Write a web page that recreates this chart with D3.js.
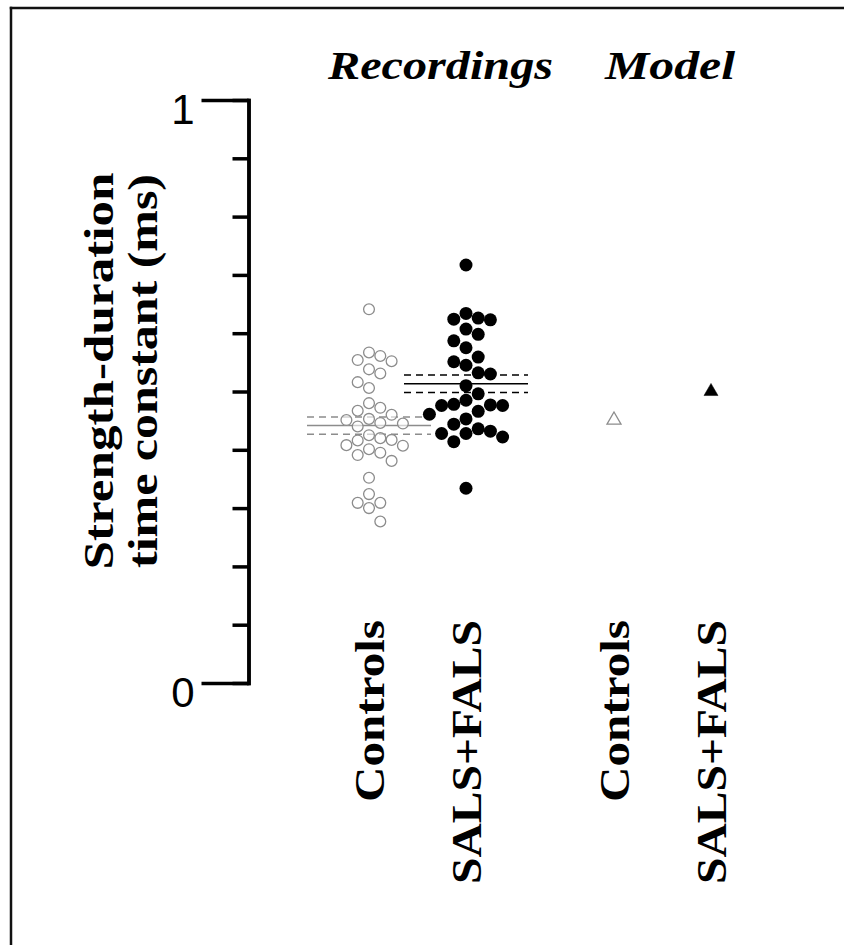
<!DOCTYPE html>
<html>
<head>
<meta charset="utf-8">
<script src="https://cdn.jsdelivr.net/npm/d3@7"></script>
<style>
  html, body { margin: 0; padding: 0; background: #fff; overflow: hidden; }
  svg { display: block; }
</style>
</head>
<body>
<svg id="chart" width="844" height="945"></svg>
<script>
// Strength-duration time constants (ms)
const groups = ["Recordings", "Model"];
const conditions = ["Controls", "SALS+FALS"];

const recordedControls = [
  0.641, 0.552, 0.561, 0.567, 0.554, 0.538, 0.531, 0.516, 0.506,
  0.480, 0.472, 0.467, 0.460, 0.445, 0.453, 0.440, 0.451, 0.446,
  0.420, 0.408, 0.417, 0.407, 0.416, 0.425, 0.395, 0.391, 0.401,
  0.381, 0.352, 0.324, 0.309, 0.300, 0.309, 0.277
];
const recordedALS = [
  0.717, 0.626, 0.634, 0.623, 0.624, 0.607, 0.598, 0.587, 0.575,
  0.559, 0.551, 0.545, 0.530, 0.532, 0.510, 0.496, 0.477, 0.466,
  0.476, 0.485, 0.478, 0.476, 0.461, 0.453, 0.436, 0.432, 0.444,
  0.428, 0.422, 0.428, 0.414, 0.334
];
const modelValues = [0.451, 0.500];   // Controls, SALS+FALS

const yTicks = d3.range(0, 1.0001, 0.1);
const yLabelTicks = [0, 1];
const yTitle = ["Strength-duration", "time constant (ms)"];

const svg = d3.select("#chart");
const GRAY = "#8c8c8c";
const SERIF = '"Liberation Serif", "Times New Roman", Times, serif';
const SANS = '"Liberation Sans", Arial, sans-serif';

const y = d3.scaleLinear().domain([0, 1]).range([683, 100]);
const groupX = d3.scalePoint().domain(groups).range([417.5, 662.5]);
const condX = d3.scalePoint().domain(conditions).range([-48.5, 48.5]);
const xOf = (g, c) => groupX(g) + condX(c);

// frame: left and top edges only
const frame = svg.append("g").attr("stroke", "#111").attr("stroke-width", 2.5);
frame.append("line").attr("x1", 11).attr("y1", 6.75).attr("x2", 11).attr("y2", 945);
frame.append("line").attr("x1", 9.75).attr("y1", 8).attr("x2", 844).attr("y2", 8);

// y axis: short minor ticks, long end ticks with labels
const axisX = 248.5;
const minorAxis = d3.axisLeft(y).tickValues(yTicks).tickSize(16).tickSizeOuter(0).tickFormat("");
const majorAxis = d3.axisLeft(y).tickValues(yLabelTicks).tickSize(47).tickSizeOuter(0)
  .tickPadding(7).tickFormat(d3.format("d"));

const gMinor = svg.append("g").attr("transform", `translate(${axisX},0)`).call(minorAxis);
const gMajor = svg.append("g").attr("transform", `translate(${axisX},0)`).call(majorAxis);
[gMinor, gMajor].forEach(g => {
  g.selectAll("line, path").attr("stroke", "#000").attr("stroke-width", 3.5);
  g.select(".domain").attr("stroke-linecap", "square");
});
gMajor.selectAll("text")
  .attr("fill", "#000")
  .style("font-family", SANS)
  .style("font-size", "42px")
  .attr("dy", "0.55em");

// y title (two rotated lines)
const titleBase = [113, 157];
const titleLen = [397, 394];
yTitle.forEach((t, i) => {
  svg.append("text")
    .attr("transform", `translate(${titleBase[i]},371) rotate(-90)`)
    .attr("text-anchor", "middle")
    .style("font-family", SERIF)
    .style("font-weight", "bold")
    .style("font-size", "43px")
    .attr("textLength", titleLen[i])
    .attr("lengthAdjust", "spacingAndGlyphs")
    .text(t);
});

// group headers
const headerX = { "Recordings": 440.5, "Model": 670 };
const headerLen = { "Recordings": 225, "Model": 130 };
groups.forEach(g => {
  svg.append("text")
    .attr("x", headerX[g]).attr("y", 79)
    .attr("text-anchor", "middle")
    .style("font-family", SERIF)
    .style("font-weight", "bold")
    .style("font-style", "italic")
    .style("font-size", "39px")
    .attr("textLength", headerLen[g])
    .attr("lengthAdjust", "spacingAndGlyphs")
    .text(g);
});

// condition labels under each column
const condLen = { "Controls": 182, "SALS+FALS": 264 };
groups.forEach(g => conditions.forEach(c => {
  svg.append("text")
    .attr("transform", `translate(${xOf(g, c) + 15},620) rotate(-90)`)
    .attr("text-anchor", "end")
    .style("font-family", SERIF)
    .style("font-weight", "bold")
    .style("font-size", "43px")
    .attr("textLength", condLen[c])
    .attr("lengthAdjust", "spacingAndGlyphs")
    .text(c);
}));

// column-slot beeswarm layout
function swarm(values, cx, spacing, minGap) {
  const pts = values.map(v => ({ v, y: y(v) })).sort((a, b) => a.y - b.y);
  const placed = [];
  for (const p of pts) {
    for (let k = 0; ; k++) {
      const col = k === 0 ? 0 : (k % 2 ? (k + 1) / 2 : -k / 2);
      if (!placed.some(q => q.col === col && Math.abs(q.y - p.y) < minGap)) { p.col = col; break; }
    }
    placed.push(p);
  }
  return placed.map(p => ({ ...p, x: cx + p.col * spacing }));
}

// mean ± SEM lines
function meanLines(values, cx, color) {
  const m = d3.mean(values);
  const sem = d3.deviation(values) / Math.sqrt(values.length);
  const half = 62;
  const rows = [
    { v: m, dash: null },
    { v: m + sem, dash: "7,5" },
    { v: m - sem, dash: "7,5" }
  ];
  svg.append("g").selectAll("line").data(rows).join("line")
    .attr("x1", cx - half).attr("x2", cx + half)
    .attr("y1", d => y(d.v)).attr("y2", d => y(d.v))
    .attr("stroke", color).attr("stroke-width", 1.5)
    .attr("stroke-dasharray", d => d.dash);
}

const cCtrl = xOf("Recordings", "Controls");
const cALS = xOf("Recordings", "SALS+FALS");

meanLines(recordedControls, cCtrl, GRAY);
meanLines(recordedALS, cALS, "#000");

svg.append("g").selectAll("circle")
  .data(swarm(recordedControls, cCtrl, 11.3, 13.5)).join("circle")
  .attr("cx", d => d.x).attr("cy", d => d.y).attr("r", 5.4)
  .attr("fill", "#fff").attr("fill-opacity", 0.6)
  .attr("stroke", GRAY).attr("stroke-width", 1.3);

svg.append("g").selectAll("circle")
  .data(swarm(recordedALS, cALS, 12.2, 14)).join("circle")
  .attr("cx", d => d.x).attr("cy", d => d.y).attr("r", 6.5)
  .attr("fill", "#000");

// model results
const tri = d3.symbol().type(d3.symbolTriangle).size(85);
svg.append("g").selectAll("path")
  .data(conditions.map((c, i) => ({ c, v: modelValues[i] }))).join("path")
  .attr("transform", d => `translate(${xOf("Model", d.c)},${y(d.v)})`)
  .attr("d", tri)
  .attr("fill", d => d.c === "Controls" ? "#fff" : "#000")
  .attr("stroke", d => d.c === "Controls" ? GRAY : "#000")
  .attr("stroke-width", d => d.c === "Controls" ? 1.3 : 0.5);
</script>
</body>
</html>
